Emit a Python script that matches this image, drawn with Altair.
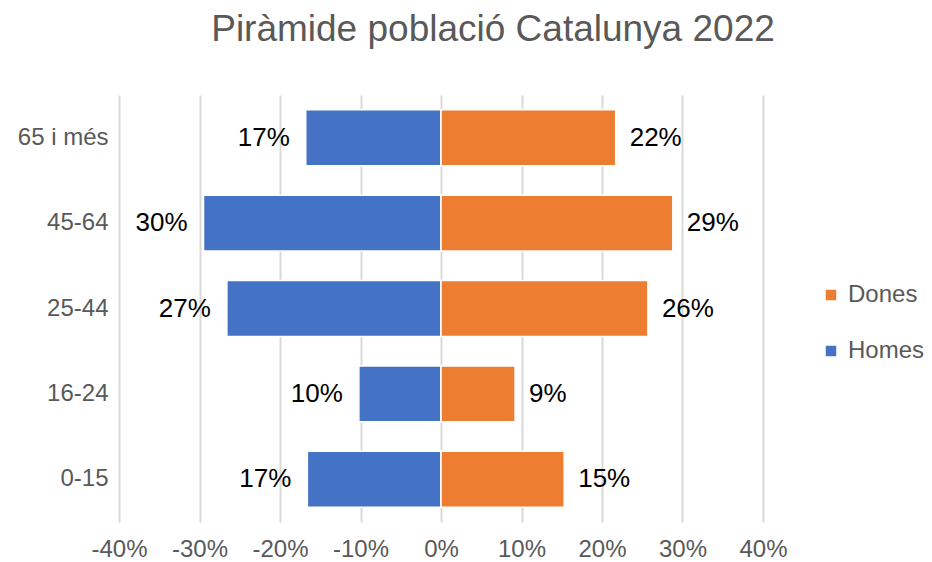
import altair as alt
import pandas as pd

cats = ["65 i més", "45-64", "25-44", "16-24", "0-15"]
homes = [-0.168, -0.295, -0.266, -0.102, -0.166]
dones = [0.217, 0.288, 0.257, 0.092, 0.153]
series = ["Dones", "Homes"]
colors = ["#ED7D31", "#4472C4"]
ticks = [-0.4, -0.3, -0.2, -0.1, 0.0, 0.1, 0.2, 0.3, 0.4]

df = pd.DataFrame({
    "grup": cats * 2,
    "sexe": ["Homes"] * len(cats) + ["Dones"] * len(cats),
    "valor": homes + dones,
})

FONT = "Liberation Sans"
GREY = "#595959"

y_enc = alt.Y(
    "grup:N", sort=cats, title=None,
    scale=alt.Scale(paddingInner=0.345, paddingOuter=0.1725),
    axis=alt.Axis(domain=False, ticks=False, grid=False, labelFontSize=24,
                  labelColor=GREY, labelFont=FONT, labelPadding=11),
)
x_enc = alt.X(
    "valor:Q", title=None,
    scale=alt.Scale(domain=[-0.4, 0.4], nice=False, zero=False),
    axis=alt.Axis(values=ticks, domain=False, ticks=False,
                  labelExpr="round(datum.value * 100) + '%'",
                  labelOverlap=False, labelBound=False, labelFlush=False,
                  grid=True, gridColor="#d9d9d9", gridWidth=2,
                  labelFontSize=24, labelColor=GREY, labelFont=FONT,
                  labelPadding=15),
)

base = alt.Chart(df).encode(y=y_enc, x=x_enc)

bars = base.mark_bar(stroke="white", strokeWidth=1.5).encode(
    color=alt.Color(
        "sexe:N",
        scale=alt.Scale(domain=series, range=colors),
        legend=alt.Legend(
            title=None, orient="none", legendX=700, legendY=188,
            symbolType="square", symbolSize=110, symbolStrokeWidth=0,
            labelFontSize=24, labelColor=GREY, labelFont=FONT,
            labelOffset=5, rowPadding=32,
        ),
    )
)

lbl = "format(abs(datum.valor), '.0%')"
text_h = base.transform_filter("datum.sexe == 'Homes'").transform_calculate(
    lbl=lbl
).mark_text(align="right", baseline="middle", dx=-16, fontSize=26,
            font=FONT, color="black").encode(text="lbl:N")
text_d = base.transform_filter("datum.sexe == 'Dones'").transform_calculate(
    lbl=lbl
).mark_text(align="left", baseline="middle", dx=14, fontSize=26,
            font=FONT, color="black").encode(text="lbl:N")

chart = (bars + text_h + text_d).properties(
    width=644, height=427,
    title=alt.TitleParams(
        "Piràmide població Catalunya 2022", fontSize=37, font=FONT,
        color=GREY, fontWeight="normal", anchor="middle", dx=52,
        baseline="alphabetic", offset=17,
    ),
    autosize=alt.AutoSizeParams(type="none"),
    padding={"left": 111, "top": 87, "right": 161, "bottom": 38},
).configure_view(stroke=None)

chart.save("out.html", embed_options={"renderer": "svg", "actions": False})
